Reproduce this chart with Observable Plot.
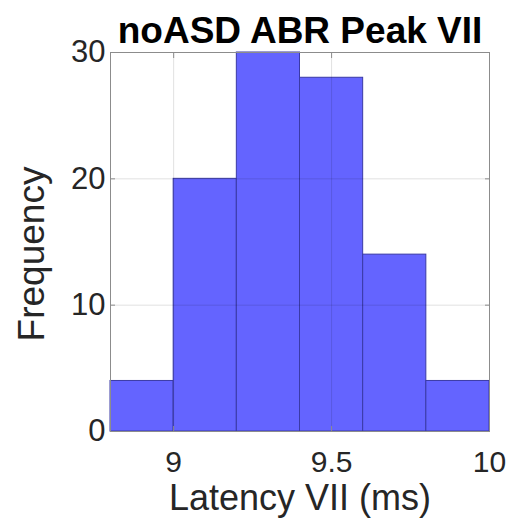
<!DOCTYPE html>
<html>
<head>
<meta charset="utf-8">
<script src="https://cdn.jsdelivr.net/npm/d3@7"></script>
<script src="https://cdn.jsdelivr.net/npm/@observablehq/plot@0.6"></script>
<style>
  html, body { margin: 0; padding: 0; background: #fff; }
  #chart svg { display: block; }
</style>
</head>
<body>
<div id="chart"></div>
<script>
// Histogram of peak VII latencies (no-ASD group)
const title = "noASD ABR Peak VII";
const xLabel = "Latency VII (ms)";
const yLabel = "Frequency";

// Bin edges (ms) and counts per bin
const binEdges = [8.8, 9.0, 9.2, 9.4, 9.6, 9.8, 10.0];
const counts = [4, 20, 30, 28, 14, 4];

const xTicks = [9, 9.5, 10];
const xTickLabels = ["9", "9.5", "10"];
const yTicks = [0, 10, 20, 30];
const yTickLabels = ["0", "10", "20", "30"];

const bins = counts.map((c, i) => ({x1: binEdges[i], x2: binEdges[i + 1], count: c}));
const xLabelOf = new Map(xTicks.map((t, i) => [t, xTickLabels[i]]));
const yLabelOf = new Map(yTicks.map((t, i) => [t, yTickLabels[i]]));

const font = "Arial, 'Liberation Sans', Helvetica, sans-serif";
const ink = "#262626";
const boxColor = "#8c8c8c";

const chart = Plot.plot({
  width: 511,
  height: 529,
  marginLeft: 110,
  marginRight: 22,
  marginTop: 52,
  marginBottom: 98,
  style: {fontFamily: font, color: ink, background: "#fff"},
  x: {domain: [binEdges[0], binEdges[binEdges.length - 1]]},
  y: {domain: [0, 30]},
  marks: [
    Plot.rectY(bins, {x1: "x1", x2: "x2", y: "count", inset: 0,
      fill: "#6464ff", stroke: "#3a3aa6", strokeWidth: 1}),
    Plot.gridX(xTicks, {stroke: "#000", strokeOpacity: 0.12}),
    Plot.gridY(yTicks.slice(1, -1), {stroke: "#000", strokeOpacity: 0.12}),
    Plot.frame({stroke: boxColor, strokeWidth: 1}),
    // inward tick marks on the box
    Plot.axisX({anchor: "top", ticks: xTicks, tickSize: -5, tickFormat: () => "", label: null, stroke: boxColor}),
    Plot.axisY({anchor: "right", ticks: yTicks, tickSize: -5, tickFormat: () => "", label: null, stroke: boxColor}),
    Plot.axisX({anchor: "bottom", ticks: xTicks, tickSize: -5, tickPadding: 24,
      tickFormat: d => xLabelOf.get(d), label: null, fontSize: 30, stroke: boxColor, fill: ink}),
    Plot.axisY({anchor: "left", ticks: yTicks, tickSize: -5, tickPadding: 10,
      tickFormat: d => yLabelOf.get(d), label: null, fontSize: 31, stroke: boxColor, fill: ink}),
    // title and axis titles
    Plot.text([title], {frameAnchor: "top", lineAnchor: "middle", textAnchor: "middle", dy: -21,
      text: d => d, fontSize: 37, fontWeight: "bold", fill: "#000"}),
    Plot.text([xLabel], {frameAnchor: "bottom", lineAnchor: "middle", textAnchor: "middle", dy: 67,
      text: d => d, fontSize: 36, fill: ink}),
    Plot.text([yLabel], {frameAnchor: "left", lineAnchor: "middle", textAnchor: "middle",
      dx: -78, dy: 12, rotate: -90, text: d => d, fontSize: 37, fill: ink})
  ]
});

document.getElementById("chart").appendChild(chart);
</script>
</body>
</html>
